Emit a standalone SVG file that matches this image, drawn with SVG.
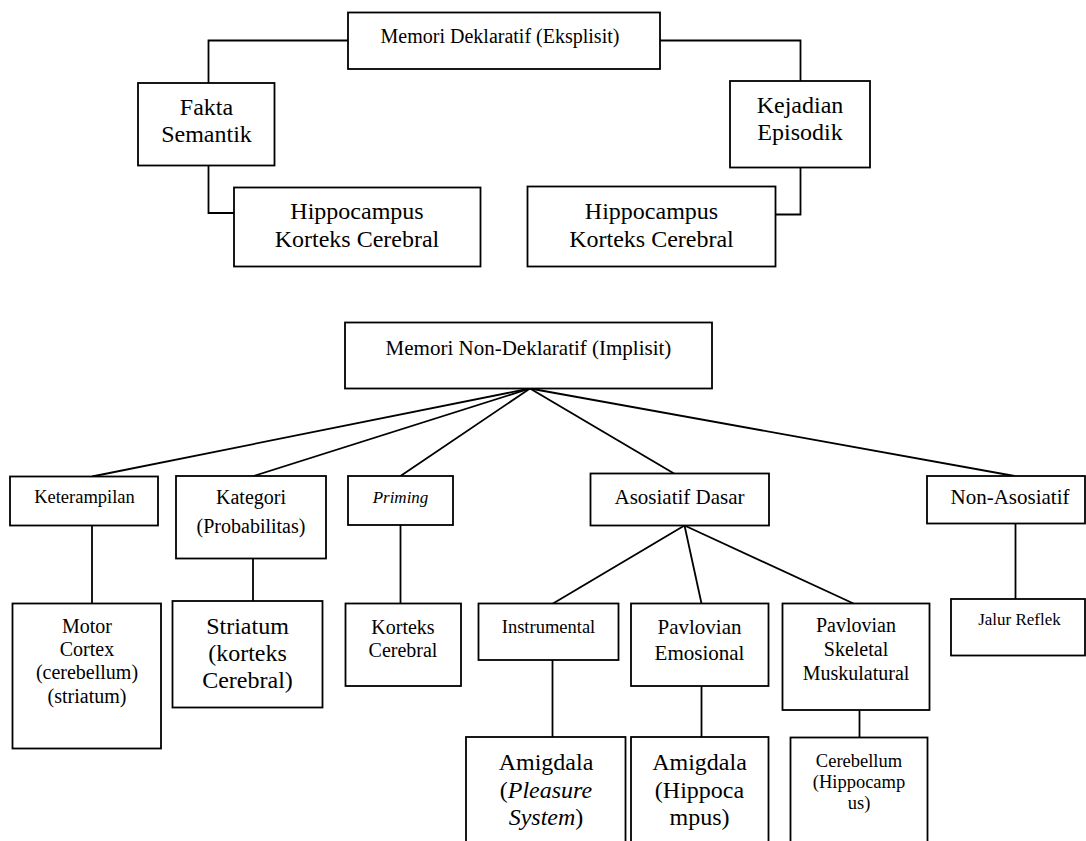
<svg xmlns="http://www.w3.org/2000/svg" width="1086" height="841" viewBox="0 0 1086 841">
<style>
.box{fill:#fff;stroke:#000;stroke-width:1.8}
.ln{fill:none;stroke:#000;stroke-width:1.8}
text{font-family:"Liberation Serif","Times New Roman",serif;text-anchor:middle;fill:#000}
.f24{font-size:24px}.f21{font-size:21px}.f20{font-size:20px}.f18{font-size:18.5px}.f17{font-size:17px}
.it{font-style:italic}
</style>
<rect width="1086" height="841" fill="#fff"/>
<g id="connectors">
<polyline class="ln" points="348,40.5 208.5,40.5 208.5,83"/>
<polyline class="ln" points="660,40.5 800.5,40.5 800.5,81"/>
<polyline class="ln" points="208.5,165.5 208.5,213 234,213"/>
<polyline class="ln" points="800.5,167.5 800.5,214.5 775.5,214.5"/>
<line class="ln" x1="530" y1="388.5" x2="92" y2="476.5"/>
<line class="ln" x1="530" y1="388.5" x2="253.5" y2="476"/>
<line class="ln" x1="530" y1="388.5" x2="400.5" y2="476"/>
<line class="ln" x1="530" y1="388.5" x2="674" y2="473.5"/>
<line class="ln" x1="530" y1="388.5" x2="1014.5" y2="476"/>
<line class="ln" x1="684.5" y1="525.5" x2="553" y2="603.5"/>
<line class="ln" x1="684.5" y1="525.5" x2="701.5" y2="603.5"/>
<line class="ln" x1="684.5" y1="525.5" x2="853.5" y2="603.5"/>
<line class="ln" x1="92" y1="525.5" x2="92" y2="603.5"/>
<line class="ln" x1="253" y1="558.5" x2="253" y2="601"/>
<line class="ln" x1="400.5" y1="525" x2="400.5" y2="603.5"/>
<line class="ln" x1="1015.5" y1="523.5" x2="1015.5" y2="599"/>
<line class="ln" x1="552.5" y1="660" x2="552.5" y2="737"/>
<line class="ln" x1="701.5" y1="686" x2="701.5" y2="737"/>
<line class="ln" x1="859.5" y1="710" x2="859.5" y2="737.5"/>
</g>
<g id="memori-deklaratif"><rect class="box" x="348" y="12.5" width="312" height="56.5"/><text class="f20" x="500" y="43">Memori Deklaratif (Eksplisit)</text></g>
<g id="fakta-semantik"><rect class="box" x="138" y="83" width="136.5" height="82.5"/><text class="f24" x="206.5" y="114.5">Fakta</text><text class="f24" x="206.5" y="141.5">Semantik</text></g>
<g id="kejadian-episodik"><rect class="box" x="730" y="81" width="140" height="86.5"/><text class="f24" x="800" y="113">Kejadian</text><text class="f24" x="800" y="140">Episodik</text></g>
<g id="hippocampus-kiri"><rect class="box" x="234" y="187.5" width="246.5" height="79"/><text class="f24" x="357" y="219">Hippocampus</text><text class="f24" x="357" y="246.5">Korteks Cerebral</text></g>
<g id="hippocampus-kanan"><rect class="box" x="527.5" y="186.5" width="248" height="80"/><text class="f24" x="651.5" y="219">Hippocampus</text><text class="f24" x="651.5" y="246.5">Korteks Cerebral</text></g>
<g id="memori-non-deklaratif"><rect class="box" x="345" y="322.5" width="367" height="66"/><text class="f21" x="528.5" y="355">Memori Non-Deklaratif (Implisit)</text></g>
<g id="keterampilan"><rect class="box" x="10" y="476.5" width="148" height="49"/><text class="f18" x="84.5" y="503">Keterampilan</text></g>
<g id="kategori"><rect class="box" x="176" y="476" width="150" height="82.5"/><text class="f20" x="251" y="504">Kategori</text><text class="f20" x="251" y="533">(Probabilitas)</text></g>
<g id="priming"><rect class="box" x="348" y="476" width="105" height="49"/><text class="f17 it" x="400.5" y="502.5">Priming</text></g>
<g id="asosiatif-dasar"><rect class="box" x="590.5" y="473.5" width="178.5" height="52"/><text class="f21" x="679.5" y="504">Asosiatif Dasar</text></g>
<g id="non-asosiatif"><rect class="box" x="927" y="476" width="158" height="47.5"/><text class="f21" x="1010" y="503.5">Non-Asosiatif</text></g>
<g id="motor-cortex"><rect class="box" x="12.5" y="603.5" width="148.5" height="145"/><text class="f20" x="87" y="632.5">Motor</text><text class="f20" x="87" y="656">Cortex</text><text class="f20" x="87" y="679">(cerebellum)</text><text class="f20" x="87" y="702.5">(striatum)</text></g>
<g id="striatum"><rect class="box" x="172.5" y="601" width="150" height="106.5"/><text class="f24" x="247.5" y="633.5">Striatum</text><text class="f24" x="247.5" y="660.5">(korteks</text><text class="f24" x="247.5" y="688">Cerebral)</text></g>
<g id="korteks-cerebral"><rect class="box" x="345.5" y="603.5" width="115.5" height="82.5"/><text class="f20" x="403" y="634">Korteks</text><text class="f20" x="403" y="657">Cerebral</text></g>
<g id="instrumental"><rect class="box" x="478.5" y="603.5" width="140" height="56.5"/><text class="f18" x="548.5" y="632.5">Instrumental</text></g>
<g id="pavlovian-emosional"><rect class="box" x="631" y="603.5" width="137.5" height="82.5"/><text class="f21" x="699.5" y="633.5">Pavlovian</text><text class="f21" x="699.5" y="659.5">Emosional</text></g>
<g id="pavlovian-skeletal"><rect class="box" x="782.5" y="603.5" width="147" height="106.5"/><text class="f20" x="856" y="632">Pavlovian</text><text class="f20" x="856" y="656">Skeletal</text><text class="f20" x="856" y="679.5">Muskulatural</text></g>
<g id="jalur-reflek"><rect class="box" x="951" y="599" width="134" height="56.5"/><text class="f17" x="1019.5" y="625">Jalur Reflek</text></g>
<g id="amigdala-pleasure"><rect class="box" x="466" y="737" width="159.5" height="110"/><text class="f24" x="546" y="769.5">Amigdala</text><text class="f24" x="546" y="797.5">(<tspan class="it">Pleasure</tspan></text><text class="f24" x="546" y="825">
<tspan class="it">System</tspan>)</text></g>
<g id="amigdala-hippocampus"><rect class="box" x="631" y="737" width="137.5" height="110"/><text class="f24" x="699.5" y="769.5">Amigdala</text><text class="f24" x="699.5" y="797.5">(Hippoca</text><text class="f24" x="699.5" y="825">mpus)</text></g>
<g id="cerebellum"><rect class="box" x="790.5" y="737.5" width="137" height="110"/><text class="f18" x="859" y="766.5">Cerebellum</text><text class="f18" x="859" y="787.5">(Hippocamp</text><text class="f18" x="859" y="808.5">us)</text></g>
</svg>
